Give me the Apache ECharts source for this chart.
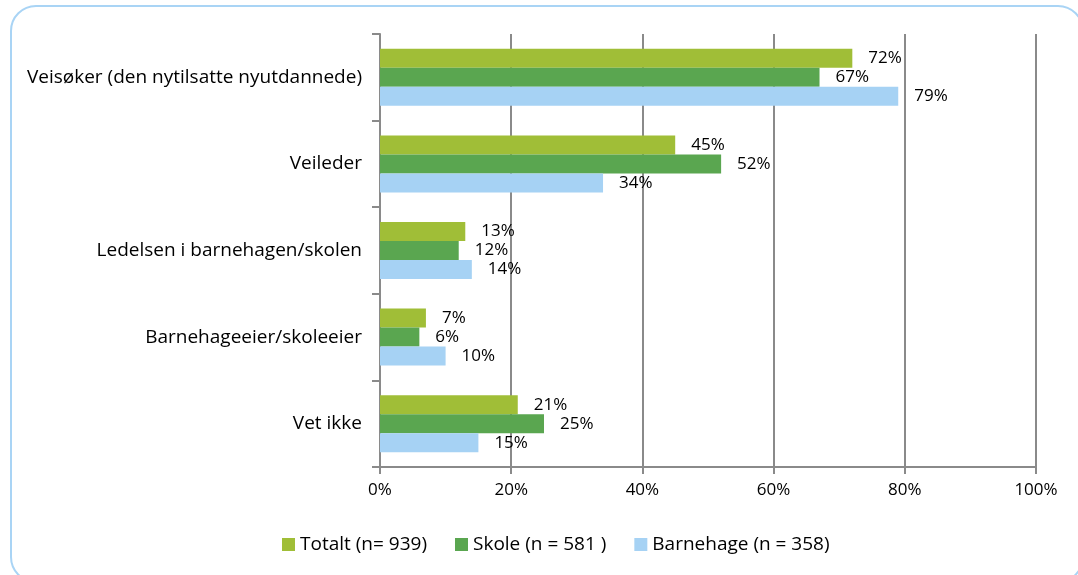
<!DOCTYPE html>
<html>
<head>
<meta charset="utf-8">
<script src="https://cdn.jsdelivr.net/npm/echarts@6/dist/echarts.min.js"></script>
<style>
  html, body { margin: 0; padding: 0; background: #fff; }
  #wrap { position: relative; width: 1078px; height: 575px; overflow: hidden; }
  #chart { position: absolute; left: 0; top: 0; width: 1078px; height: 575px; }
  #frame {
    position: absolute; left: 10px; top: 5px; width: 1070px; height: 574px;
    border: 2px solid #a9d4f5; border-radius: 26px; pointer-events: none;
  }
</style>
</head>
<body>
<div id="wrap">
  <div id="chart"></div>
  <div id="frame"></div>
</div>
<script>
  // kategorier (ovenfra og ned)
  const categories = [
    'Veisøker (den nytilsatte nyutdannede)',
    'Veileder',
    'Ledelsen i barnehagen/skolen',
    'Barnehageeier/skoleeier',
    'Vet ikke'
  ]
  const seriesNames = ['Totalt (n= 939)', 'Skole (n = 581 )', 'Barnehage (n = 358)']
  const totalt = [72, 45, 13, 7, 21]
  const skole = [67, 52, 12, 6, 25]
  const barnehage = [79, 34, 14, 10, 15]
  const colors = ['#a0be37', '#5aa650', '#a6d2f4']

  const font = 'Open Sans'
  const gray = '#8a8a8a'

  function bar(name, data, color) {
    return {
      name: name,
      type: 'bar',
      data: data,
      barWidth: 19,
      barGap: '0%',
      itemStyle: { color: color },
      label: {
        show: true,
        position: 'right',
        distance: 16,
        formatter: '{c}%',
        color: '#000',
        fontFamily: font,
        fontSize: 17
      }
    }
  }

  var chart = echarts.init(document.getElementById('chart'))
  chart.setOption({
    animation: false,
    textStyle: { fontFamily: font },
    grid: { left: 380, right: 42, top: 34, bottom: 108, containLabel: false },
    legend: {
      bottom: 16,
      left: 277,
      itemWidth: 13,
      itemHeight: 13,
      itemGap: 28,
      icon: 'rect',
      textStyle: { color: '#000', fontSize: 19, fontFamily: font },
      data: seriesNames
    },
    xAxis: {
      type: 'value',
      min: 0,
      max: 100,
      interval: 20,
      axisLine: { show: true, lineStyle: { color: gray, width: 2 } },
      axisTick: { show: true, length: 7, lineStyle: { color: gray, width: 2 } },
      splitLine: { show: true, lineStyle: { color: gray, width: 2 } },
      axisLabel: { color: '#000', fontSize: 17, margin: 15, formatter: '{value}%' }
    },
    yAxis: {
      type: 'category',
      inverse: true,
      data: categories,
      axisLine: { show: true, lineStyle: { color: gray, width: 2 } },
      axisTick: { show: true, length: 8, lineStyle: { color: gray, width: 2 } },
      axisLabel: { color: '#000', fontSize: 19, margin: 18 }
    },
    series: [
      bar(seriesNames[0], totalt, colors[0]),
      bar(seriesNames[1], skole, colors[1]),
      bar(seriesNames[2], barnehage, colors[2])
    ]
  })
</script>
</body>
</html>
